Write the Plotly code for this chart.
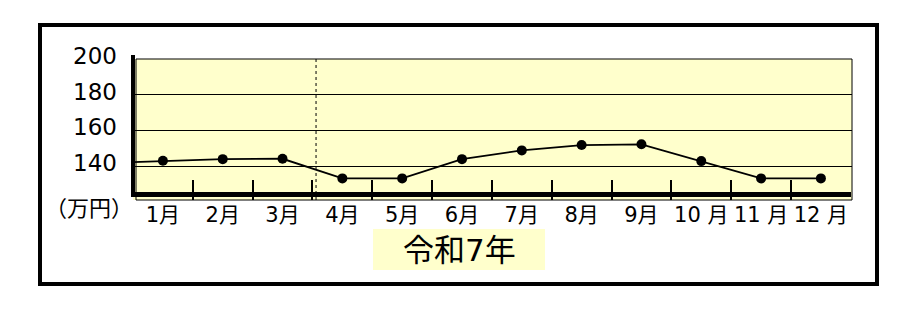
import plotly.graph_objects as go

# ---- data ----
months = list(range(1, 13))
month_labels = ["1月", "2月", "3月", "4月", "5月", "6月", "7月", "8月", "9月", "10 月", "11 月", "12 月"]
values = [143.0, 143.9, 144.1, 133.1, 133.1, 143.9, 148.8, 151.8, 152.2, 142.8, 133.1, 133.1]
prev_value = 141.7          # previous year's December (line enters from the left)
y_ticks = [140, 160, 180, 200]
y_unit_label = "（万円）"
year_label = "令和7年"

W, H = 915, 312
L, R, T, B = 133, 852, 59, 200   # plot area in pixels


def px(x):
    return (x - L) / (R - L)


def py(y):
    return (B - y) / (B - T)


FONT = "DejaVu Sans, Noto Sans CJK JP, sans-serif"

fig = go.Figure()
fig.add_trace(go.Scatter(
    x=[0] + months, y=[prev_value] + values, mode="lines",
    line=dict(color="black", width=1.8), hoverinfo="skip", showlegend=False))
fig.add_trace(go.Scatter(
    x=months, y=values, mode="markers",
    marker=dict(color="black", size=10), showlegend=False, cliponaxis=False))

shapes = []
# outer frame
shapes.append(dict(type="rect", xref="paper", yref="paper",
                   x0=px(40), x1=px(877), y0=py(284), y1=py(25),
                   line=dict(color="black", width=4), layer="above"))
# plot border
shapes.append(dict(type="rect", xref="paper", yref="paper",
                   x0=px(136), x1=1, y0=0, y1=1,
                   line=dict(color="black", width=1), layer="above"))
# dotted divider
shapes.append(dict(type="line", xref="x", yref="paper", x0=3.56, x1=3.56,
                   y0=0, y1=1, line=dict(color="black", width=1, dash="dot"),
                   layer="between"))
# thick left axis
shapes.append(dict(type="line", xref="paper", yref="paper", x0=px(133), x1=px(133),
                   y0=py(197), y1=py(55), line=dict(color="black", width=4),
                   layer="above"))
# thick bottom axis
shapes.append(dict(type="line", xref="paper", yref="paper", x0=px(131), x1=px(851),
                   y0=py(194.5), y1=py(194.5), line=dict(color="black", width=5),
                   layer="above"))
# year label box
shapes.append(dict(type="rect", xref="paper", yref="paper",
                   x0=px(373), x1=px(545), y0=py(270), y1=py(229),
                   fillcolor="#FFFFCC", line=dict(width=0), layer="below"))

annotations = [
    dict(text=y_unit_label, xref="paper", yref="paper", x=px(89), y=py(206),
         xanchor="center", yanchor="middle", showarrow=False,
         font=dict(family="Noto Sans CJK JP", size=22, color="black")),
    dict(text=year_label, xref="paper", yref="paper", x=px(459), y=py(250),
         xanchor="center", yanchor="middle", showarrow=False,
         font=dict(family=FONT, size=31, color="black")),
]

fig.update_layout(
    width=W, height=H,
    margin=dict(l=L, r=W - R, t=T, b=H - B, pad=0),
    paper_bgcolor="white", plot_bgcolor="#FFFFCC",
    shapes=shapes, annotations=annotations,
    xaxis=dict(range=[0.5, 12.52], tickmode="array", tickvals=months,
               ticktext=month_labels, ticks="", showgrid=False, zeroline=False,
               showline=False, tickfont=dict(family=FONT, size=21, color="black"),
               minor=dict(tickmode="array", tickvals=[m + 0.5 for m in months[:-1]],
                          ticks="inside", ticklen=20, tickwidth=1.5,
                          tickcolor="black", showgrid=False),
               fixedrange=True),
    yaxis=dict(range=[121, 200], tickmode="array", tickvals=y_ticks,
               ticks="", showgrid=True, gridcolor="black", gridwidth=1,
               zeroline=False, showline=False, ticklabelstandoff=15,
               ticklabelshift=-3,
               tickfont=dict(family=FONT, size=23, color="black"),
               fixedrange=True),
)

fig.write_html("out.html")
